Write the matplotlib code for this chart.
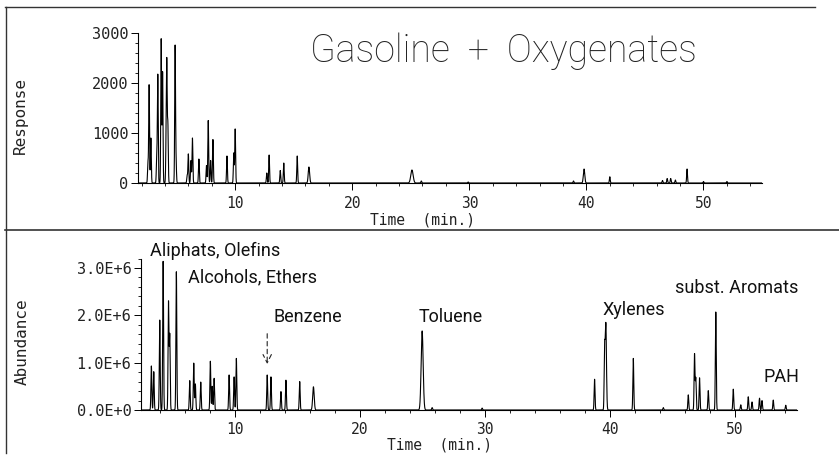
import numpy as np
import matplotlib
matplotlib.use('Agg')
import matplotlib.pyplot as plt
from matplotlib.lines import Line2D
from matplotlib.ticker import MultipleLocator

# peak tables (time in min, height)
fid_times = [2.55, 2.65, 2.8, 3.3, 3.39, 3.68, 3.8, 4.1, 4.16, 4.25, 4.87, 4.95,
             5.9, 6.0, 6.22, 6.35, 6.9, 7.55, 7.7, 7.9, 8.1, 9.3, 9.88, 10.0,
             12.7, 12.9, 13.85, 14.15, 15.3, 16.3, 25.1, 25.9, 29.9, 38.9, 39.8,
             42.0, 46.5, 46.9, 47.2, 47.6, 48.6, 50.0, 52.0]
fid_heights = [400, 1960, 900, 500, 2160, 2880, 2220, 700, 2300, 1160, 2730, 400,
               150, 580, 450, 900, 480, 350, 1250, 450, 870, 540, 600, 1080,
               200, 560, 250, 400, 540, 320, 260, 40, 20, 40, 280,
               125, 50, 90, 90, 60, 280, 30, 30]

ms_times = [3.33, 3.52, 4.0, 4.27, 4.70, 4.80, 5.33, 6.4, 6.72, 6.85, 7.28, 8.05,
            8.2, 8.35, 9.55, 9.95, 10.13, 12.6, 12.9, 13.7, 14.1, 15.2, 16.3,
            25.0, 25.8, 29.8, 38.8, 39.6, 39.7, 41.9, 44.3, 46.3, 46.8, 46.9,
            47.2, 47.9, 48.5, 49.9, 50.5, 51.1, 51.4, 52.0, 52.2, 53.1, 54.1]
ms_heights = [0.93, 0.81, 1.90, 3.14, 2.28, 1.58, 2.92, 0.62, 0.99, 0.55, 0.59, 1.03,
              0.50, 0.67, 0.74, 0.70, 1.09, 0.74, 0.70, 0.39, 0.63, 0.60, 0.49,
              1.67, 0.05, 0.04, 0.65, 1.16, 1.83, 1.09, 0.05, 0.32, 1.18, 0.67,
              0.68, 0.41, 2.07, 0.44, 0.11, 0.28, 0.17, 0.25, 0.20, 0.21, 0.10]

abund_ticks = [0, 1e6, 2e6, 3e6]
abund_labels = ['0.0E+0', '1.0E+6', '2.0E+6', '3.0E+6']

groups = ['Aliphats, Olefins', 'Alcohols, Ethers', 'Benzene', 'Toluene',
          'Xylenes', 'subst. Aromats', 'PAH']
group_t = [3.2, 6.24, 13.12, 24.72, 39.4, 45.2, 52.3]
group_y = [3.25e6, 2.69e6, 1.85e6, 1.85e6, 2.0e6, 2.47e6, 0.59e6]


def trace(t, times, heights, wide):
    y = np.zeros_like(t)
    for t0, h in zip(times, heights):
        s = wide.get(t0, 0.035)
        y += h * np.exp(-0.5 * ((t - t0) / s) ** 2)
    return y


t = np.linspace(1.5, 55.5, 30000)
y_fid = trace(t, fid_times, fid_heights, {25.1: 0.1, 16.3: 0.06, 39.8: 0.06})
y_ms = trace(t, ms_times, [h * 1e6 for h in ms_heights],
             {25.0: 0.08, 39.7: 0.05, 16.3: 0.06})

W, H = 839, 455
fig = plt.figure(figsize=(W / 100, H / 100), dpi=100)
mono = 'DejaVu Sans Mono'
ink = '#222222'


def px_axes(x0, x1, y_top, y_bot):
    return fig.add_axes([x0 / W, 1 - y_bot / H, (x1 - x0) / W, (y_bot - y_top) / H])


def style(ax, xpad):
    for s in ['top', 'right']:
        ax.spines[s].set_visible(False)
    ax.spines['left'].set_linewidth(0.8)
    ax.spines['bottom'].set_linewidth(0.8)
    ax.xaxis.set_major_locator(MultipleLocator(10))
    ax.xaxis.set_minor_locator(MultipleLocator(2))
    ax.tick_params(which='major', direction='out', length=5, width=0.7)
    ax.tick_params(which='minor', direction='out', length=2.5, width=0.6)
    ax.tick_params(axis='x', labelsize=10.5, pad=xpad)
    ax.tick_params(axis='y', labelsize=11, pad=2)
    for lab in ax.get_xticklabels() + ax.get_yticklabels():
        lab.set_family(mono)
        lab.set_color(ink)


# upper panel: detector response
ax1 = px_axes(138, 762, 33, 183)
ax1.plot(t, y_fid, color='black', lw=0.8)
ax1.set_xlim(1.7, 55)
ax1.set_ylim(0, 3000)
ax1.yaxis.set_major_locator(MultipleLocator(1000))
ax1.yaxis.set_minor_locator(MultipleLocator(200))
style(ax1, 4.5)
fig.text(422 / W, 1 - 220 / H, 'Time  (min.)', ha='center', va='center',
         family=mono, fontsize=10.5, color=ink)
fig.text(20 / W, 1 - 116 / H, 'Response', ha='center', va='center', rotation=90,
         family=mono, fontsize=11.5, color=ink)
fig.text(310 / W, 1 - 62 / H, 'Gasoline  +  Oxygenates', ha='left', va='baseline',
         family=['Roboto', 'DejaVu Sans'], fontweight='light', fontsize=27,
         color=ink)

# lower panel: MS abundance
ax2 = px_axes(141, 797, 258.5, 410)
ax2.plot(t, y_ms, color='black', lw=0.8)
ax2.set_xlim(2.5, 55)
ax2.set_ylim(0, 3.2e6)
ax2.set_yticks(abund_ticks)
ax2.set_yticklabels(abund_labels)
ax2.yaxis.set_minor_locator(MultipleLocator(2e5))
style(ax2, 4)
fig.text(439 / W, 1 - 445 / H, 'Time  (min.)', ha='center', va='center',
         family=mono, fontsize=10.5, color=ink)
fig.text(22 / W, 1 - 342 / H, 'Abundance', ha='center', va='center', rotation=90,
         family=mono, fontsize=11.5, color=ink)

for name, gx, gy in zip(groups, group_t, group_y):
    ax2.text(gx, gy, name, ha='left', va='baseline', fontsize=13,
             family=['Roboto', 'DejaVu Sans'], color='#111111', clip_on=False)

ax2.annotate('', xy=(12.6, 0.91e6), xytext=(12.6, 1.67e6),
             arrowprops=dict(arrowstyle='->,head_length=0.6,head_width=0.3',
                             lw=0.8, ls=(0, (4, 3)), color=ink))

# frame lines of the printout
fig.add_artist(Line2D([5 / W, 815 / W], [1 - 7 / H, 1 - 7 / H], color='#333333', lw=1))
fig.add_artist(Line2D([6 / W, 6 / W], [1 - 7 / H, 1 - 453 / H], color='#333333', lw=1))
fig.add_artist(Line2D([5 / W, 1], [1 - 230 / H, 1 - 230 / H], color='#333333', lw=1.2))

fig.savefig('out.png', dpi=100)
